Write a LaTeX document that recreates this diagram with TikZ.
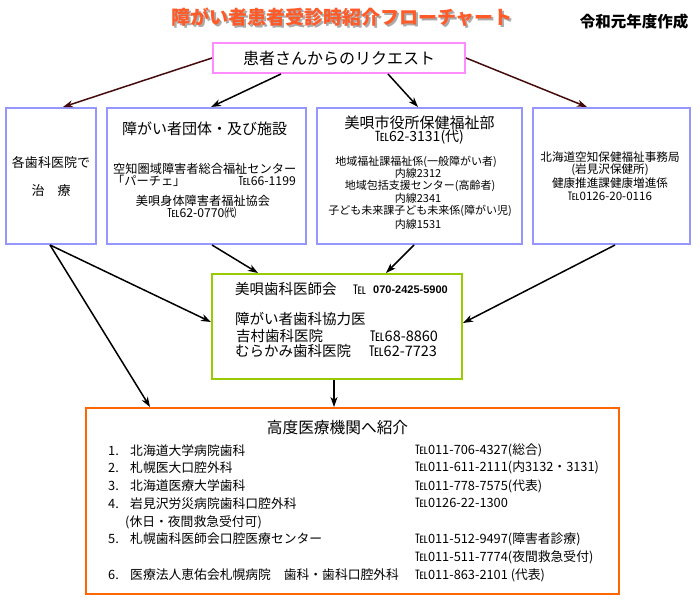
\documentclass[tikz,border=0pt]{standalone}
\usepackage{fontspec}
\setmainfont{Noto Sans CJK JP}
\newfontfamily\arialfont{Liberation Sans}
\usetikzlibrary{arrows.meta,calc}
\definecolor{boxblue}{RGB}{150,150,255}
\definecolor{boxpink}{RGB}{255,140,255}
\definecolor{boxgreen}{RGB}{153,204,0}
\definecolor{boxorange}{RGB}{255,102,0}
\definecolor{titleor}{RGB}{255,90,40}
\definecolor{titleshadow}{RGB}{170,170,170}
\definecolor{arrbrown}{RGB}{70,12,12}
\newcommand{\fsz}[1]{\fontsize{#1pt}{#1pt}\selectfont}
\newcommand{\ttltext}{障がい者患者受診時紹介フローチャート}
\begin{document}
\begin{tikzpicture}[x=1pt,y=-1pt,
  bx/.style={line width=2pt, inner sep=0pt},
  tx/.style={inner sep=0pt, font=\fsz{#1}},
  arr/.style={line width=1.5pt, -{Stealth[length=10pt,width=7pt,inset=3pt]}}]
\useasboundingbox (0,0) rectangle (700,610);

% title (with drop shadow inside the same node)
\node[tx=19] (title) at (342,18) {\bfseries\rlap{\hspace{2pt}\raisebox{-2.5pt}{\textcolor{titleshadow}{\ttltext}}}\textcolor{titleor}{\ttltext}};
\node[tx=15.5] (year) at (634,22) {\bfseries 令和元年度作成};

% boxes
\node[bx, draw=boxpink, minimum width=252pt, minimum height=30pt] (req) at (339,58) {\fsz{16}患者さんからのリクエスト};
\node[bx, draw=boxblue, minimum width=90pt, minimum height=136pt] (b1) at (51,176) {};
\node[bx, draw=boxblue, minimum width=199pt, minimum height=136pt] (b2) at (206.5,176) {};
\node[bx, draw=boxblue, minimum width=205pt, minimum height=136pt] (b3) at (419.5,176) {};
\node[bx, draw=boxblue, minimum width=157pt, minimum height=136pt] (b4) at (611.5,176) {};
\node[bx, draw=boxgreen, minimum width=250pt, minimum height=105pt] (g) at (337,326.5) {};
\node[bx, draw=boxorange, minimum width=533pt, minimum height=186pt] (o) at (352.5,501) {};

% box1
\node[tx=13] (b1a) at (51,163) {各歯科医院で};
\node[tx=13] (b1b) at (51,191) {治　療};

% box2
\node[tx=15] (b2a) at (204.5,129) {障がい者団体・及び施設};
\node[tx=12.2, anchor=west] (b2b) at (113,169) {空知圏域障害者総合福祉センター};
\node[tx=12.2, anchor=west] (b2c) at (112,181) {「パーチェ」};
\node[tx=12.2, anchor=east] (b2d) at (296,181) {℡66-1199};
\node[tx=12.2] (b2e) at (203,201) {美唄身体障害者福祉協会};
\node[tx=12.2] (b2f) at (202,213) {℡62-0770㈹};

% box3
\node[tx=15] (b3a) at (419.5,123) {美唄市役所保健福祉部};
\node[tx=14] (b3b) at (419.5,137) {℡62-3131(代)};
\node[tx=11] (b3c) at (416,162) {地域福祉課福祉係(一般障がい者)};
\node[tx=11] (b3d) at (418,173) {内線2312};
\node[tx=11] (b3e) at (420,185.5) {地域包括支援センター(高齢者)};
\node[tx=11] (b3f) at (418,198) {内線2341};
\node[tx=11] (b3g) at (420,210.5) {子ども未来課子ども未来係(障がい児)};
\node[tx=11] (b3h) at (418,224) {内線1531};

% box4
\node[tx=11.6] (b4a) at (610,157.5) {北海道空知保健福祉事務局};
\node[tx=11.6] (b4b) at (610,170) {(岩見沢保健所)};
\node[tx=11.6] (b4c) at (610,183) {健康推進課健康増進係};
\node[tx=11.6] (b4d) at (610,196) {℡0126-20-0116};

% green box
\node[tx=14.5, anchor=west] (ga) at (235,289) {美唄歯科医師会};
\node[tx=13, anchor=west] (gtel) at (353,290) {℡};
\node[tx=11, anchor=west] (gnum) at (373,290) {\arialfont\bfseries 070-2425-5900};
\node[tx=14.5, anchor=west] (gb) at (235,319) {障がい者歯科協力医};
\node[tx=14.5, anchor=west] (gc) at (236,336) {吉村歯科医院};
\node[tx=14.5, anchor=west] (gd) at (370,336) {℡68-8860};
\node[tx=14.5, anchor=west] (ge) at (235,351) {むらかみ歯科医院};
\node[tx=14.5, anchor=west] (gf) at (369,351) {℡62-7723};

% orange box
\node[tx=15.7] (oa) at (337.5,428) {高度医療機関へ紹介};
\foreach \n/\y/\t in {1/451/北海道大学病院歯科, 2/468/札幌医大口腔外科, 3/486/北海道医療大学歯科, 4/504/岩見沢労災病院歯科口腔外科, 5/539/札幌歯科医師会口腔医療センター, 6/575/医療法人恵佑会札幌病院　歯科・歯科口腔外科}{
  \node[tx=12.8, anchor=west] (onum\n) at (108,\y) {\n.};
  \node[tx=12.8, anchor=west] (otxt\n) at (130,\y) {\t};
}
\node[tx=12.8, anchor=west] (o4b) at (125,522) {(休日・夜間救急受付可)};
\foreach \k/\y/\t in {1/450/℡011-706-4327(総合), 2/467/℡011-611-2111(内3132・3131), 3/486/℡011-778-7575(代表), 4/503/℡0126-22-1300, 5/539/℡011-512-9497(障害者診療), 6/557/℡011-511-7774(夜間救急受付), 7/575/℡011-863-2101 (代表)}{
  \node[tx=12.8, anchor=west] (otel\k) at (415,\y) {\t};
}

% connectors
\draw[arr, draw=arrbrown] (req.west) -- ($(b1.north)+(12,0)$);
\draw[arr] ($(req.south)+(-58,0)$) -- ($(b2.north)+(4.5,0)$);
\draw[arr] ($(req.south)+(49,0)$) -- ($(b3.north)+(-1.5,0)$);
\draw[arr, draw=arrbrown] (req.east) -- ($(b4.north)+(-24.5,0)$);
\draw[arr] ($(b1.south)+(-1,0)$) -- ($(g.west)+(0,-4.5)$);
\draw[arr] ($(b1.south)+(-1,0)$) -- ($(o.north)+(-202.5,0)$);
\draw[arr] ($(b2.south)+(5.5,0)$) -- ($(g.north)+(-79,0)$);
\draw[arr] ($(b3.south)+(-5.5,0)$) -- ($(g.north)+(49,0)$);
\draw[arr] ($(b4.south)+(3.5,0)$) -- ($(g.east)+(0,-3.5)$);
\draw[arr] ($(g.south)+(-3,0)$) -- ($(o.north)+(-18.5,0)$);
\end{tikzpicture}
\end{document}
